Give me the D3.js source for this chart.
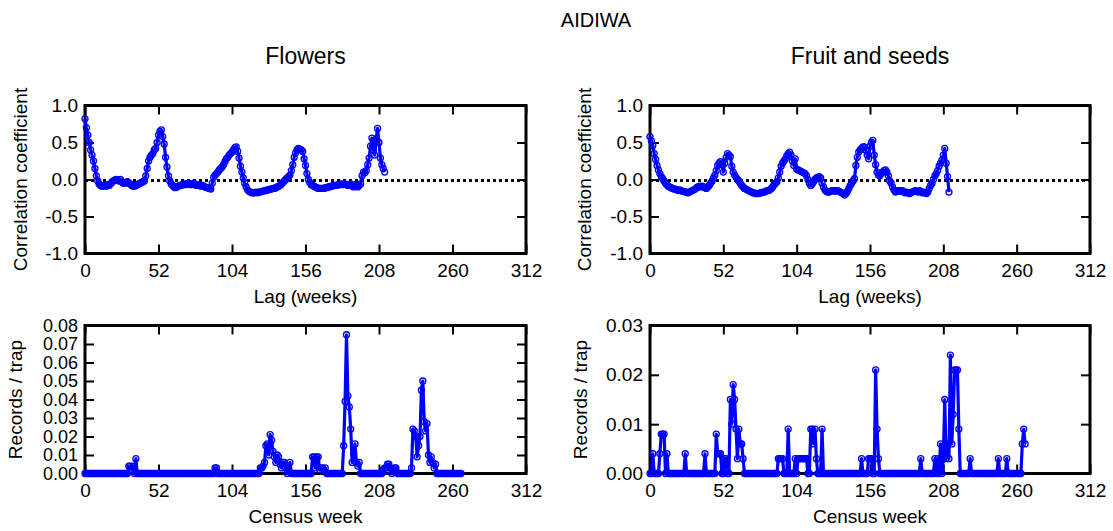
<!DOCTYPE html>
<html>
<head>
<meta charset="utf-8">
<script src="https://cdn.jsdelivr.net/npm/d3@7"></script>
<style>
  html, body { margin: 0; padding: 0; background: #fff; }
  svg { display: block; font-family: "Liberation Sans", Arial, Helvetica, sans-serif; }
</style>
</head>
<body>
<svg id="chart" width="1113" height="531"></svg>
<script>
// ---------------- DATA ----------------
const mainTitle = "AIDIWA";
const panelTitles = ["Flowers", "Fruit and seeds"];
const lagTicks = [0, 52, 104, 156, 208, 260, 312];
const corrTicks = [-1.0, -0.5, 0.0, 0.5, 1.0];
const flowerRecTicks = [0, 0.01, 0.02, 0.03, 0.04, 0.05, 0.06, 0.07, 0.08];
const fruitRecTicks = [0, 0.01, 0.02, 0.03];

// Autocorrelation, lags 0..212
const flowersACF = [
  0.82, 0.70, 0.60, 0.50, 0.40, 0.33, 0.25, 0.15, 0.05, -0.02,
  -0.06, -0.08, -0.09, -0.09, -0.08, -0.09, -0.07, -0.08, -0.06, -0.04,
  -0.02, -0.01, 0.00, -0.01, -0.02, 0.00, -0.03, -0.05, -0.05, -0.04,
  -0.03, -0.05, -0.06, -0.08, -0.09, -0.09, -0.08, -0.07, -0.06, -0.05,
  -0.04, -0.03, -0.02, 0.05, 0.15, 0.25, 0.30, 0.33, 0.35, 0.40,
  0.42, 0.50, 0.60, 0.65, 0.67, 0.58, 0.48, 0.30, 0.17, 0.05,
  -0.02, -0.06, -0.08, -0.10, -0.11, -0.10, -0.09, -0.08, -0.08, -0.07,
  -0.06, -0.07, -0.06, -0.05, -0.06, -0.07, -0.06, -0.05, -0.07, -0.08,
  -0.07, -0.08, -0.09, -0.08, -0.09, -0.10, -0.11, -0.11, -0.12, -0.13,
  -0.05, 0.03, 0.06, 0.08, 0.10, 0.13, 0.15, 0.17, 0.20, 0.24,
  0.28, 0.30, 0.33, 0.35, 0.37, 0.40, 0.43, 0.44, 0.38, 0.29,
  0.18, 0.10, 0.02, -0.05, -0.10, -0.14, -0.16, -0.17, -0.18, -0.18,
  -0.18, -0.17, -0.18, -0.17, -0.17, -0.16, -0.16, -0.15, -0.15, -0.14,
  -0.14, -0.13, -0.13, -0.12, -0.12, -0.11, -0.10, -0.09, -0.08, -0.06,
  -0.04, -0.02, 0.00, 0.02, 0.04, 0.06, 0.12, 0.20, 0.30, 0.36,
  0.40, 0.42, 0.41, 0.40, 0.38, 0.28, 0.19, 0.08, 0.00, -0.04,
  -0.07, -0.08, -0.09, -0.10, -0.11, -0.12, -0.12, -0.12, -0.12, -0.12,
  -0.11, -0.11, -0.10, -0.10, -0.09, -0.09, -0.08, -0.08, -0.08, -0.07,
  -0.07, -0.06, -0.07, -0.06, -0.06, -0.07, -0.08, -0.07, -0.06, -0.08,
  -0.10, -0.07, -0.08, -0.10, -0.08, -0.06, 0.05, 0.10, 0.09, 0.12,
  0.20, 0.29, 0.45, 0.56, 0.40, 0.33, 0.55, 0.69, 0.50, 0.29,
  0.20, 0.15, 0.10
];
const fruitACF = [
  0.58, 0.52, 0.46, 0.35, 0.27, 0.19, 0.13, 0.08, 0.04, 0.01,
  -0.02, -0.05, -0.07, -0.09, -0.10, -0.11, -0.12, -0.13, -0.13, -0.14,
  -0.15, -0.14, -0.15, -0.16, -0.16, -0.17, -0.17, -0.18, -0.17, -0.16,
  -0.15, -0.14, -0.13, -0.11, -0.10, -0.09, -0.10, -0.09, -0.10, -0.11,
  -0.12, -0.10, -0.08, -0.05, -0.02, 0.02, 0.06, 0.12, 0.19, 0.22,
  0.24, 0.20, 0.10, 0.22, 0.30, 0.35, 0.33, 0.31, 0.18, 0.10,
  0.06, 0.03, 0.00, -0.02, -0.05, -0.08, -0.10, -0.12, -0.13, -0.14,
  -0.15, -0.16, -0.17, -0.18, -0.18, -0.19, -0.19, -0.19, -0.18, -0.18,
  -0.17, -0.17, -0.16, -0.15, -0.15, -0.14, -0.12, -0.10, -0.07, -0.05,
  -0.03, 0.02, 0.10, 0.18, 0.22, 0.25, 0.28, 0.32, 0.35, 0.37,
  0.33, 0.25, 0.19, 0.28, 0.14, 0.13, 0.12, 0.11, 0.10, 0.09,
  0.08, 0.05, 0.00, -0.05, -0.08, -0.06, -0.03, 0.00, 0.02, 0.03,
  0.04, 0.02, -0.05, -0.10, -0.14, -0.16, -0.17, -0.17, -0.16, -0.15,
  -0.15, -0.16, -0.15, -0.15, -0.16, -0.17, -0.18, -0.19, -0.21, -0.19,
  -0.16, -0.12, -0.08, -0.05, -0.02, 0.01, 0.19, 0.30, 0.37, 0.40,
  0.42, 0.44, 0.44, 0.40, 0.33, 0.28, 0.45, 0.50, 0.53, 0.33,
  0.20, 0.10, 0.06, 0.05, 0.08, 0.10, 0.12, 0.13, 0.10, 0.05,
  -0.02, -0.05, -0.10, -0.14, -0.17, -0.16, -0.15, -0.16, -0.15, -0.15,
  -0.17, -0.18, -0.17, -0.18, -0.19, -0.18, -0.17, -0.16, -0.15, -0.16,
  -0.17, -0.15, -0.16, -0.18, -0.17, -0.18, -0.19, -0.17, -0.12, -0.08,
  -0.05, 0.00, 0.05, 0.08, 0.12, 0.18, 0.22, 0.26, 0.33, 0.42,
  0.22, 0.04, -0.17
];

// Records per trap, census weeks 0..266
const flowersRecords = [
  0,0,0,0,0,0,0,0,0,0, 0,0,0,0,0,0,0,0,0,0,
  0,0,0,0,0,0,0,0,0,0, 0,0.004,0.004,0.002,0.004,0,0.008,0,0,0,
  0,0,0,0,0,0,0,0,0,0, 0,0,0,0,0,0,0,0,0,0,
  0,0,0,0,0,0,0,0,0,0, 0,0,0,0,0,0,0,0,0,0,
  0,0,0,0,0,0,0,0,0,0, 0,0,0.003,0.003,0,0,0,0,0,0,
  0,0,0,0,0,0,0,0,0,0, 0,0,0,0,0,0,0,0,0,0,
  0,0,0,0,0.003,0.003,0.004,0.006,0.015,0.016, 0.010,0.021,0.018,0.012,0.009,0.006,0.010,0.009,0.005,0.003,
  0.006,0.006,0.003,0,0.003,0.006,0,0,0,0, 0,0,0,0,0,0,0,0,0,0,
  0,0.009,0.009,0.003,0.009,0.009,0.002,0.003,0.003,0.002, 0.003,0,0,0,0,0,0,0,0,0,
  0,0,0,0.015,0.039,0.075,0.042,0.036,0.024,0.006, 0.011,0.016,0.006,0.004,0.006,0,0,0,0,0,
  0,0,0,0,0,0,0,0,0,0, 0,0.002,0.003,0.003,0.005,0.005,0.003,0,0.002,0.003,
  0.003,0,0,0,0,0,0,0,0,0, 0,0.003,0.024,0.023,0.020,0.009,0.015,0.020,0.045,0.050,
  0.028,0.023,0.027,0.010,0.006,0.009,0.006,0.003,0.005,0, 0,0,0,0,0,0,0,0,0,0,
  0,0,0,0,0,0,0
];
const fruitRecords = [
  0,0,0.004,0,0,0,0,0.004,0.008,0.008, 0.008,0,0.004,0,0,0,0,0,0,0,
  0,0,0,0,0,0.004,0,0,0,0, 0,0,0,0,0,0,0,0,0,0.004,
  0,0,0,0,0,0,0,0.008,0.004,0.004, 0.004,0,0,0.003,0.003,0,0,0.015,0.010,0.018,
  0.015,0.009,0.003,0.009,0.006,0.006,0.003,0,0,0, 0,0,0,0,0,0,0,0,0,0,
  0,0,0,0,0,0,0,0,0,0, 0,0.003,0.003,0.003,0.003,0,0,0,0.009,0,
  0,0,0,0.003,0,0.003,0.003,0.003,0.003,0.003, 0.003,0.003,0,0,0.009,0.009,0.006,0.009,0.003,0,
  0,0,0.009,0,0,0,0,0,0,0, 0,0,0,0,0,0,0,0,0,0,
  0,0,0,0,0,0,0,0,0,0, 0.003,0,0,0,0,0.003,0.003,0.003,0,0,
  0.021,0.009,0.003,0,0,0,0,0,0,0, 0,0,0,0,0,0,0,0,0,0,
  0,0,0,0,0,0,0,0,0,0, 0,0,0.003,0,0,0,0,0,0,0,
  0,0,0.003,0,0.003,0,0.006,0,0.003,0.015, 0.003,0.006,0.003,0.024,0.006,0.012,0.021,0.021,0.021,0.009,
  0,0,0,0,0,0,0,0.003,0,0, 0,0,0,0,0,0,0,0,0,0,
  0,0,0,0,0,0,0,0.003,0,0, 0,0,0,0.003,0,0,0,0,0,0,
  0,0,0,0,0.006,0.009,0.006
];

// ---------------- DRAW ----------------
const svg = d3.select("#chart");
const BLUE = "#0000ff";
const LABEL_FONT = 19;

svg.append("text").attr("x", 596).attr("y", 27).attr("text-anchor", "middle")
  .attr("font-size", 20).text(mainTitle);

const cols = [{x0: 85, x1: 526}, {x0: 650, x1: 1090}];
const rows = [{y0: 105.5, y1: 253.5}, {y0: 325.5, y1: 473.5}];

svg.append("text").attr("x", (cols[0].x0 + cols[0].x1) / 2).attr("y", 64)
  .attr("text-anchor", "middle").attr("font-size", 23).text(panelTitles[0]);
svg.append("text").attr("x", (cols[1].x0 + cols[1].x1) / 2).attr("y", 64)
  .attr("text-anchor", "middle").attr("font-size", 23).text(panelTitles[1]);

function panel(col, row, cfg) {
  const x = d3.scaleLinear().domain([0, 312]).range([col.x0, col.x1]);
  const y = d3.scaleLinear().domain(cfg.yDomain).range([row.y1, row.y0]);
  const g = svg.append("g");
  const tl = 9;

  const styleAxis = (sel, fs) => {
    sel.select(".domain").remove();
    sel.selectAll(".tick line").attr("stroke", "#000").attr("stroke-width", 2);
    sel.selectAll(".tick text").attr("font-size", fs).attr("fill", "#000")
      .attr("font-family", "Liberation Sans, Arial, sans-serif");
  };

  g.append("g").attr("transform", `translate(0,${row.y1})`)
    .call(d3.axisBottom(x).tickValues(lagTicks).tickSize(-tl).tickPadding(10).tickFormat(d3.format("d")))
    .call(styleAxis, 19);
  g.append("g").attr("transform", `translate(0,${row.y0})`)
    .call(d3.axisTop(x).tickValues(lagTicks).tickSize(-tl).tickFormat(""))
    .call(styleAxis, 19);
  g.append("g").attr("transform", `translate(${col.x0},0)`)
    .call(d3.axisLeft(y).tickValues(cfg.yTicks).tickSize(-tl).tickPadding(7).tickFormat(d3.format(cfg.yFormat)))
    .call(styleAxis, cfg.yTickFont);
  g.append("g").attr("transform", `translate(${col.x1},0)`)
    .call(d3.axisRight(y).tickValues(cfg.yTicks).tickSize(-tl).tickFormat(""))
    .call(styleAxis, 19);
  g.selectAll(".tick text").text(function() { return d3.select(this).text().replace("\u2212", "-"); });

  if (cfg.zeroLine) {
    g.append("line").attr("x1", col.x0).attr("x2", col.x1)
      .attr("y1", Math.round(y(0)) + 0.5).attr("y2", Math.round(y(0)) + 0.5)
      .attr("stroke", "#000").attr("stroke-width", 3).attr("stroke-dasharray", "3,3");
  }

  g.append("rect").attr("x", col.x0).attr("y", row.y0)
    .attr("width", col.x1 - col.x0).attr("height", row.y1 - row.y0)
    .attr("fill", "none").attr("stroke", "#000").attr("stroke-width", 3);

  const pts = cfg.values.map((v, i) => [i, v]);
  const line = d3.line().x(d => x(d[0])).y(d => y(d[1]));
  g.append("path").datum(pts).attr("d", line)
    .attr("fill", "none").attr("stroke", BLUE).attr("stroke-width", 3.2).attr("stroke-linejoin", "round");
  g.append("g").selectAll("circle").data(pts).join("circle")
    .attr("cx", d => x(d[0])).attr("cy", d => y(d[1])).attr("r", 3)
    .attr("fill", "none").attr("stroke", BLUE).attr("stroke-width", 1.3);

  svg.append("text").attr("x", (col.x0 + col.x1) / 2).attr("y", cfg.xLabelY)
    .attr("text-anchor", "middle").attr("font-size", LABEL_FONT).text(cfg.xLabel);
  svg.append("text")
    .attr("transform", `translate(${cfg.yLabelX},${(row.y0 + row.y1) / 2}) rotate(-90)`)
    .attr("text-anchor", "middle").attr("font-size", LABEL_FONT).text(cfg.yLabel);
}

panel(cols[0], rows[0], {yDomain: [-1, 1], yTicks: corrTicks, yFormat: ".1f", yTickFont: 19, values: flowersACF,
  zeroLine: true, xLabel: "Lag (weeks)", xLabelY: 303, yLabel: "Correlation coefficient", yLabelX: 27});
panel(cols[1], rows[0], {yDomain: [-1, 1], yTicks: corrTicks, yFormat: ".1f", yTickFont: 19, values: fruitACF,
  zeroLine: true, xLabel: "Lag (weeks)", xLabelY: 303, yLabel: "Correlation coefficient", yLabelX: 591});
panel(cols[0], rows[1], {yDomain: [0, 0.08], yTicks: flowerRecTicks, yFormat: ".2f", yTickFont: 18, values: flowersRecords,
  zeroLine: false, xLabel: "Census week", xLabelY: 523, yLabel: "Records / trap", yLabelX: 22});
panel(cols[1], rows[1], {yDomain: [0, 0.03], yTicks: fruitRecTicks, yFormat: ".2f", yTickFont: 19, values: fruitRecords,
  zeroLine: false, xLabel: "Census week", xLabelY: 523, yLabel: "Records / trap", yLabelX: 587});
</script>
</body>
</html>
